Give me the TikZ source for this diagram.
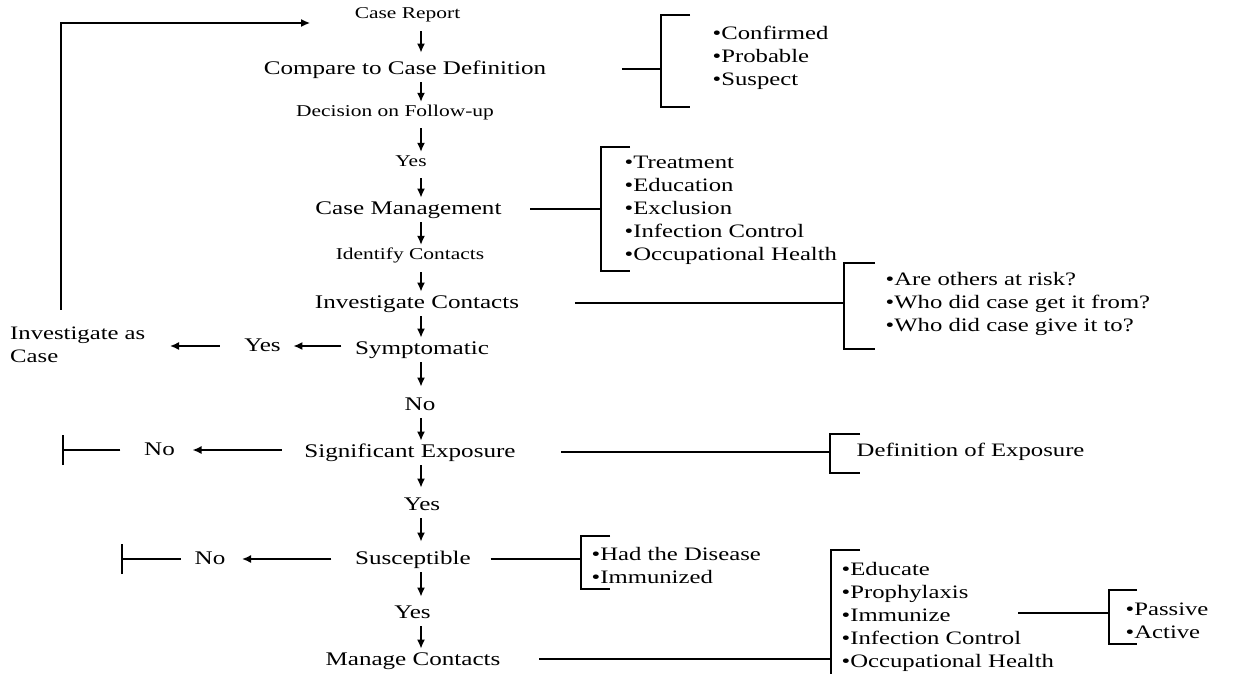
\documentclass[tikz,border=0pt]{standalone}
\usepackage{fontspec}
\setmainfont{Liberation Serif}[FakeStretch=1.3]
\usetikzlibrary{arrows.meta,positioning}

\tikzset{
  big/.style={font=\fontsize{19.3}{23}\selectfont, inner sep=2.5pt, text height=14.5pt, text depth=2.9pt},
  small/.style={font=\fontsize{16.5}{20}\selectfont, inner sep=2.5pt, text height=12.4pt, text depth=2.5pt},
  items/.style={font=\fontsize{19}{23}\selectfont, align=left, anchor=west, inner sep=2.5pt},
  ln/.style={line width=1.5pt},
  arr/.style={ln, -{Latex[length=9pt,width=8pt]}},
  dn/.style={arr, shorten <=2pt},
  stopline/.style={ln, -{Bar[width=30pt]}}
}

\begin{document}
\begin{tikzpicture}[x=1pt,y=-1pt]
            \useasboundingbox (0,0) rectangle (1233,674);
            \coordinate (ax) at (421,0);

            % main column
            \node[small] (cr) at (407.5,14) {Case Report};
            \node[big] (cmp) at (405,69) {Compare to Case Definition};
            \node[small] (dec) at (395,112) {Decision on Follow-up};
            \node[small] (yes1) at (411,162) {Yes};
            \node[big] (cm) at (408.5,209) {Case Management};
            \node[small] (idc) at (410,255) {Identify Contacts};
            \node[big] (ic) at (417,303) {Investigate Contacts};
            \node[big] (sym) at (422,349) {Symptomatic};
            \node[big] (no1) at (420,405) {No};
            \node[big] (se) at (410,452) {Significant Exposure};
            \node[big] (yes2) at (422,505) {Yes};
            \node[big] (susc) at (413,559) {Susceptible};
            \node[big] (yes3) at (412.5,613) {Yes};
            \node[big] (mc) at (413,660) {Manage Contacts};

            \draw[dn, shorten <=7pt, shorten >=5pt] (cr.south -| ax) -- (cmp.north -| ax);
            \draw[dn] (cmp.south -| ax) -- (dec.north -| ax);
            \draw[dn, shorten <=6pt] (dec.south -| ax) -- (yes1.north -| ax);
            \draw[dn, shorten <=6pt] (yes1.south -| ax) -- (cm.north -| ax);
            \draw[dn] (cm.south -| ax) -- (idc.north -| ax);
            \draw[dn, shorten <=7pt] (idc.south -| ax) -- (ic.north -| ax);
            \draw[dn] (ic.south -| ax) -- (sym.north -| ax);
            \draw[dn, shorten >=7pt] (sym.south -| ax) -- (no1.north -| ax);
            \draw[dn] (no1.south -| ax) -- (se.north -| ax);
            \draw[dn, shorten >=6pt] (se.south -| ax) -- (yes2.north -| ax);
            \draw[dn, shorten >=6pt] (yes2.south -| ax) -- (susc.north -| ax);
            \draw[dn, shorten >=5pt] (susc.south -| ax) -- (yes3.north -| ax);
            \draw[dn] (yes3.south -| ax) -- (mc.north -| ax);

            % left side
            \node[big] (yesL) at (262.5,346) {Yes};
            \node[items] (inv) at (7.5,344.5) {Investigate as\\Case};
            \node[big] (noA) at (159.5,450) {No};
            \node[big] (noB) at (210,559) {No};
            \coordinate (stopA) at (62,450);
            \coordinate (stopB) at (121,559);

            \draw[arr, shorten <=11pt, shorten >=10pt] (sym.west |- yesL.east) -- (yesL.east);
            \draw[arr, shorten <=22pt, shorten >=22pt] (yesL.west) -- (yesL.west -| inv.east);
            \draw[arr, shorten <=14pt, shorten >=42pt] (inv.north -| 61,0) |- (cr.west |- 0,23);
            \draw[arr, shorten <=20pt, shorten >=15pt] (se.west |- noA.east) -- (noA.east);
            \draw[stopline, shorten <=21pt] (noA.west) -- (stopA);
            \draw[arr, shorten <=21pt, shorten >=14pt] (susc.west |- noB.east) -- (noB.east);
            \draw[stopline, shorten <=11pt] (noB.west) -- (stopB);

            % right side
            \coordinate (b1) at (661,69);
            \coordinate (b2) at (601,209);
            \coordinate (b3) at (844,303);
            \coordinate (b4) at (830,452);
            \coordinate (b5) at (581,559);
            \coordinate (b6) at (831,659);
            \coordinate (b7) at (1109,613);
            \coordinate (imz) at (1018,613);

            \draw[ln] (690,15) -| (661,107) -- (690,107);
            \draw[ln] (630,147) -| (601,271) -- (630,271);
            \draw[ln] (875,263) -| (844,349) -- (875,349);
            \draw[ln] (860,434) -| (830,473) -- (860,473);
            \draw[ln] (610,536) -| (581,589) -- (610,589);
            \draw[ln] (860,550) -| (831,680);
            \draw[ln] (1137,590) -| (1109,644) -- (1137,644);

            \draw[ln, shorten <=73pt] (cmp.east |- b1) -- (b1);
            \draw[ln, shorten <=26pt] (cm.east |- b2) -- (b2);
            \draw[ln, shorten <=53pt] (ic.east |- b3) -- (b3);
            \draw[ln, shorten <=43pt] (se.east |- b4) -- (b4);
            \draw[ln, shorten <=17pt] (susc.east |- b5) -- (b5);
            \draw[ln, shorten <=36pt] (mc.east |- b6) -- (b6);
            \draw[ln] (imz) -- (b7);

            \node[items] (conf) at (710,58) {•Confirmed\\•Probable\\•Suspect};
            \node[items] (cmlist) at (622,210.5) {•Treatment\\•Education\\•Exclusion\\•Infection Control\\•Occupational Health};
            \node[items] (iclist) at (883,304) {•Are others at risk?\\•Who did case get it from?\\•Who did case give it to?};
            \node[items] (expdef) at (854,452) {Definition of Exposure};
            \node[items] (susclist) at (589,565.5) {•Had the Disease\\•Immunized};
            \node[items] (mclist) at (839,617) {•Educate\\•Prophylaxis\\•Immunize\\•Infection Control\\•Occupational Health};
            \node[items] (imzlist) at (1123,620.5) {•Passive\\•Active};
\end{tikzpicture}
\end{document}
